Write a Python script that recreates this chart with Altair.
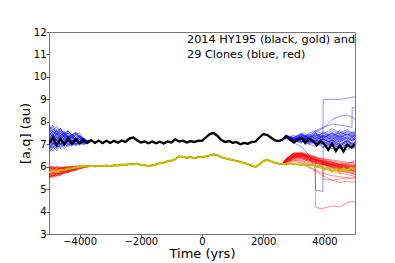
import altair as alt
import pandas as pd

# ---------------- data ----------------
main_time = list(range(-5000, 5001, 125))  # 81 sample times (yrs)

black_aq = [
    7.05, 7.30, 6.95, 7.25, 7.00, 7.28, 7.02, 7.22, 7.05, 7.20,
    7.05, 7.18, 7.06, 7.16, 7.05, 7.15, 7.06, 7.15, 7.07, 7.17,
    7.10, 7.25, 7.30, 7.18, 7.08, 7.12, 7.04, 7.12, 7.04, 7.11,
    7.03, 7.12, 7.08, 7.22, 7.12, 7.16, 7.08, 7.14, 7.10, 7.16,
    7.15, 7.30, 7.45, 7.50, 7.38, 7.20, 7.10, 7.14, 7.06, 7.10,
    7.00, 7.06, 7.02, 7.10, 7.12, 7.30, 7.45, 7.42, 7.30, 7.18,
    7.14, 7.20, 7.36, 7.22, 7.08, 7.20, 7.30, 7.05, 7.25, 7.15,
    6.95, 7.15, 7.00, 6.75, 7.02, 6.70, 6.95, 6.68, 7.00, 6.85,
    7.00,
]

gold_aq = [
    5.75, 5.80, 5.78, 5.85, 5.84, 5.90, 5.92, 5.97, 5.98, 6.02,
    6.00, 6.04, 6.01, 6.04, 6.02, 6.05, 6.03, 6.06, 6.05, 6.09,
    6.08, 6.12, 6.10, 6.13, 6.08, 6.07, 6.03, 6.06, 6.10, 6.16,
    6.18, 6.24, 6.27, 6.33, 6.46, 6.44, 6.40, 6.42, 6.38, 6.42,
    6.43, 6.46, 6.50, 6.55, 6.52, 6.42, 6.38, 6.33, 6.30, 6.25,
    6.22, 6.16, 6.12, 6.04, 5.98, 6.10, 6.25, 6.30, 6.24, 6.18,
    6.14, 6.12, 6.10, 6.14, 6.12, 6.10, 6.08, 6.10, 6.05, 6.08,
    6.00, 6.02, 5.88, 5.95, 5.78, 5.90, 5.75, 5.92, 5.82, 5.95,
    5.85,
]

clone_early_time = main_time[:11]          # -5000 .. -3750
shared_slice = (11, 62)                    # -3625 .. 2625 follow the nominal orbit
clone_late_time = [2750, 3000, 3250, 3500, 3700, 3710, 3950, 3960,
                   4250, 4500, 4750, 4900, 4910, 5000]

blue_early = [
    [7.9, 7.6, 7.8, 7.5, 7.6, 7.3, 7.4, 7.2, 7.3, 7.1, 7.15],
    [6.6, 6.9, 6.7, 7.0, 6.8, 7.0, 6.9, 7.1, 6.95, 7.1, 7.05],
    [7.6, 7.8, 7.4, 7.6, 7.3, 7.5, 7.2, 7.45, 7.5, 7.2, 7.1],
    [7.2, 7.5, 7.1, 7.4, 7.2, 7.35, 7.1, 7.3, 7.15, 7.25, 7.1],
    [6.8, 7.1, 6.85, 7.15, 6.9, 7.2, 7.0, 7.15, 7.0, 7.15, 7.05],
    [7.4, 7.1, 7.5, 7.2, 7.45, 7.25, 7.4, 7.2, 7.35, 7.15, 7.1],
    [7.0, 7.3, 7.2, 7.5, 7.3, 7.6, 7.4, 7.5, 7.3, 7.2, 7.1],
    [7.7, 7.4, 7.6, 7.3, 7.4, 7.1, 7.3, 7.1, 7.2, 7.1, 7.15],
    [6.9, 7.2, 6.9, 7.1, 6.95, 7.15, 7.0, 7.2, 7.05, 7.2, 7.1],
    [7.3, 7.0, 7.3, 7.0, 7.25, 7.0, 7.2, 7.0, 7.15, 7.05, 7.1],
    [7.5, 7.7, 7.5, 7.7, 7.4, 7.55, 7.35, 7.5, 7.3, 7.25, 7.15],
    [6.7, 6.95, 6.8, 7.05, 6.9, 7.1, 6.95, 7.05, 7.0, 7.1, 7.05],
    [7.1, 7.4, 7.2, 7.0, 7.3, 7.1, 7.35, 7.1, 7.25, 7.1, 7.1],
    [7.8, 7.5, 7.6, 7.4, 7.5, 7.2, 7.35, 7.2, 7.3, 7.15, 7.1],
    [6.85, 7.0, 7.2, 6.95, 7.15, 6.95, 7.1, 7.0, 7.1, 7.05, 7.1],
    [7.45, 7.25, 7.5, 7.3, 7.55, 7.3, 7.45, 7.25, 7.4, 7.2, 7.15],
    [7.0, 6.8, 7.1, 6.9, 7.1, 7.0, 7.15, 6.95, 7.1, 7.0, 7.05],
    [7.6, 7.3, 7.4, 7.6, 7.3, 7.4, 7.25, 7.4, 7.2, 7.25, 7.1],
    [7.25, 7.45, 7.2, 7.4, 7.15, 7.35, 7.15, 7.3, 7.1, 7.2, 7.1],
    [6.75, 7.05, 6.9, 7.2, 7.0, 7.2, 7.05, 7.15, 7.05, 7.1, 7.1],
    [7.35, 7.6, 7.4, 7.7, 7.45, 7.6, 7.4, 7.55, 7.35, 7.3, 7.15],
    [7.15, 6.95, 7.2, 7.0, 7.25, 7.05, 7.2, 7.05, 7.2, 7.05, 7.1],
    [7.55, 7.35, 7.65, 7.4, 7.5, 7.3, 7.45, 7.3, 7.4, 7.2, 7.1],
    [6.95, 7.25, 7.05, 7.3, 7.05, 7.25, 7.1, 7.25, 7.1, 7.15, 7.1],
    [7.65, 7.85, 7.55, 7.7, 7.45, 7.6, 7.4, 7.5, 7.35, 7.25, 7.15],
    [7.05, 6.85, 7.0, 6.8, 7.0, 6.9, 7.05, 6.95, 7.05, 7.0, 7.05],
    [7.4, 7.6, 7.3, 7.5, 7.35, 7.5, 7.3, 7.45, 7.3, 7.2, 7.1],
    [6.9, 6.7, 6.95, 6.85, 7.05, 6.9, 7.1, 6.95, 7.1, 7.0, 7.05],
    [7.2, 7.0, 7.35, 7.15, 7.4, 7.2, 7.35, 7.15, 7.3, 7.1, 7.1],
]

blue_late = [
    [7.3, 7.2, 7.35, 7.1, 7.3, 7.3, 7.2, 9.0, 9.0, 9.0, 9.05, 9.1, 9.1, 9.1],
    [7.25, 7.05, 6.9, 6.5, 5.9, 4.95, 4.9, 6.9, 7.1, 6.9, 7.2, 7.0, 7.0, 7.1],
    [7.3, 7.4, 7.2, 7.5, 7.6, 7.6, 7.75, 7.75, 7.9, 7.85, 7.8, 7.75, 8.65, 8.6],
    [7.35, 7.3, 7.5, 7.4, 7.55, 7.55, 7.7, 7.7, 8.1, 8.25, 8.3, 8.2, 8.2, 8.1],
    [7.3, 7.1, 7.3, 7.2, 7.0, 7.0, 7.1, 7.1, 6.9, 7.05, 6.85, 6.95, 6.95, 7.0],
    [7.4, 7.2, 7.4, 7.3, 7.4, 7.4, 7.3, 7.3, 7.5, 7.3, 7.45, 7.35, 7.35, 7.4],
    [7.35, 7.15, 7.2, 7.0, 6.9, 6.9, 7.05, 7.05, 6.8, 6.95, 6.75, 6.9, 6.9, 6.85],
    [7.3, 7.25, 7.45, 7.3, 7.5, 7.5, 7.35, 7.35, 7.6, 7.45, 7.55, 7.4, 7.4, 7.5],
    [7.35, 7.1, 7.25, 7.15, 7.05, 7.05, 7.2, 7.2, 7.1, 7.25, 7.05, 7.2, 7.2, 7.15],
    [7.3, 7.3, 7.1, 7.35, 7.15, 7.15, 7.4, 7.4, 7.2, 7.45, 7.25, 7.4, 7.4, 7.3],
    [7.4, 7.15, 7.35, 7.2, 7.35, 7.35, 7.15, 7.15, 7.3, 7.1, 7.3, 7.15, 7.15, 7.25],
    [7.35, 7.2, 7.3, 7.1, 7.25, 7.25, 6.95, 6.95, 7.15, 6.9, 7.1, 6.95, 6.95, 7.05],
    [7.3, 7.25, 7.15, 7.45, 7.25, 7.25, 7.55, 7.55, 7.35, 7.6, 7.4, 7.55, 7.55, 7.45],
    [7.35, 7.05, 7.3, 7.05, 7.2, 7.2, 6.9, 6.9, 7.0, 6.8, 6.95, 6.8, 6.8, 6.9],
    [7.3, 7.2, 7.4, 7.25, 7.45, 7.45, 7.3, 7.3, 7.5, 7.35, 7.6, 7.45, 7.45, 7.55],
    [7.4, 7.1, 7.2, 7.3, 7.1, 7.1, 7.25, 7.25, 7.05, 7.3, 7.1, 7.25, 7.25, 7.2],
    [7.3, 7.3, 7.45, 7.2, 7.4, 7.4, 7.2, 7.2, 7.4, 7.2, 7.35, 7.2, 7.2, 7.3],
    [7.35, 7.15, 7.1, 7.25, 7.05, 7.05, 7.25, 7.25, 7.0, 7.2, 6.95, 7.1, 7.1, 7.0],
    [7.3, 7.2, 7.35, 7.15, 7.35, 7.35, 7.5, 7.5, 7.3, 7.55, 7.35, 7.5, 7.5, 7.4],
    [7.4, 7.1, 7.25, 7.05, 7.15, 7.15, 7.0, 7.0, 7.2, 7.0, 7.15, 7.0, 7.0, 7.1],
    [7.35, 7.25, 7.4, 7.35, 7.6, 7.6, 7.45, 7.45, 7.7, 7.5, 7.65, 7.5, 7.5, 7.6],
    [7.3, 7.15, 7.05, 7.2, 7.0, 7.0, 7.15, 7.15, 6.95, 7.15, 6.9, 7.05, 7.05, 6.95],
    [7.35, 7.2, 7.3, 7.4, 7.25, 7.25, 7.4, 7.4, 7.25, 7.4, 7.2, 7.35, 7.35, 7.3],
    [7.3, 7.1, 7.3, 7.1, 7.3, 7.3, 7.1, 7.1, 7.35, 7.15, 7.3, 7.15, 7.15, 7.25],
    [7.4, 7.3, 7.45, 7.3, 7.5, 7.5, 7.3, 7.3, 7.45, 7.25, 7.45, 7.3, 7.3, 7.4],
    [7.3, 7.1, 7.15, 7.0, 7.1, 7.1, 6.85, 6.85, 7.05, 6.85, 7.0, 6.8, 6.8, 6.9],
    [7.35, 7.2, 7.35, 7.25, 7.45, 7.45, 7.25, 7.25, 7.5, 7.3, 7.5, 7.35, 7.35, 7.45],
    [7.3, 7.15, 7.25, 7.1, 7.2, 7.2, 7.05, 7.05, 7.2, 6.95, 7.15, 7.0, 7.0, 7.1],
    [7.35, 7.25, 7.1, 7.3, 7.15, 7.15, 7.35, 7.35, 7.15, 7.35, 7.15, 7.3, 7.3, 7.2],
]

red_early = [
    [5.5, 5.6, 5.55, 5.7, 5.7, 5.8, 5.8, 5.9, 5.92, 5.98, 6.0],
    [6.05, 5.95, 6.0, 5.95, 6.0, 5.98, 6.02, 6.0, 6.03, 6.02, 6.02],
    [5.6, 5.7, 5.65, 5.75, 5.8, 5.85, 5.88, 5.95, 5.95, 6.0, 6.0],
    [5.9, 5.8, 5.9, 5.85, 5.95, 5.9, 5.98, 5.95, 6.02, 6.0, 6.02],
    [5.55, 5.65, 5.6, 5.72, 5.75, 5.82, 5.85, 5.92, 5.95, 6.0, 6.01],
    [5.95, 6.02, 5.9, 6.0, 5.92, 6.02, 5.95, 6.05, 6.0, 6.05, 6.03],
    [5.7, 5.6, 5.75, 5.68, 5.8, 5.78, 5.88, 5.88, 5.95, 5.97, 6.0],
    [5.8, 5.9, 5.78, 5.92, 5.85, 5.95, 5.9, 5.98, 5.96, 6.02, 6.01],
    [5.6, 5.55, 5.7, 5.65, 5.78, 5.75, 5.85, 5.85, 5.93, 5.95, 6.0],
    [6.0, 5.9, 6.02, 5.92, 6.0, 5.95, 6.02, 5.97, 6.03, 6.0, 6.02],
    [5.65, 5.75, 5.7, 5.8, 5.78, 5.87, 5.85, 5.93, 5.95, 6.0, 6.0],
    [5.85, 5.75, 5.85, 5.8, 5.9, 5.85, 5.95, 5.92, 6.0, 5.98, 6.01],
    [5.52, 5.62, 5.6, 5.68, 5.72, 5.8, 5.82, 5.9, 5.92, 5.98, 6.0],
    [5.75, 5.85, 5.8, 5.88, 5.85, 5.92, 5.9, 5.97, 5.97, 6.02, 6.01],
    [5.95, 5.85, 5.95, 5.88, 5.97, 5.92, 6.0, 5.95, 6.02, 5.99, 6.02],
    [5.58, 5.68, 5.62, 5.74, 5.76, 5.84, 5.86, 5.93, 5.94, 5.99, 6.0],
    [5.88, 5.98, 5.85, 5.95, 5.9, 5.98, 5.93, 6.02, 5.98, 6.03, 6.02],
    [5.68, 5.58, 5.72, 5.66, 5.78, 5.76, 5.86, 5.86, 5.94, 5.96, 6.0],
    [5.82, 5.72, 5.84, 5.78, 5.88, 5.84, 5.93, 5.9, 5.98, 5.97, 6.01],
    [6.02, 5.92, 5.98, 5.9, 5.98, 5.93, 6.0, 5.96, 6.02, 5.99, 6.02],
    [5.62, 5.72, 5.68, 5.78, 5.8, 5.86, 5.88, 5.94, 5.95, 6.0, 6.0],
    [5.78, 5.68, 5.8, 5.74, 5.84, 5.82, 5.9, 5.9, 5.96, 5.98, 6.01],
    [5.92, 6.0, 5.88, 5.96, 5.9, 5.97, 5.94, 6.0, 5.99, 6.03, 6.02],
    [5.55, 5.5, 5.62, 5.6, 5.72, 5.72, 5.82, 5.84, 5.92, 5.95, 6.0],
    [5.72, 5.82, 5.76, 5.86, 5.82, 5.9, 5.88, 5.95, 5.96, 6.01, 6.01],
    [5.98, 5.88, 5.96, 5.86, 5.95, 5.9, 5.98, 5.94, 6.01, 5.98, 6.02],
    [5.64, 5.56, 5.68, 5.62, 5.75, 5.74, 5.84, 5.85, 5.93, 5.96, 6.0],
    [5.86, 5.94, 5.82, 5.9, 5.86, 5.94, 5.9, 5.98, 5.97, 6.02, 6.01],
    [5.7, 5.78, 5.74, 5.82, 5.8, 5.88, 5.87, 5.94, 5.95, 6.0, 6.0],
]

red_late = [
    [6.35, 6.55, 6.6, 6.5, 6.45, 4.2, 4.1, 4.15, 4.25, 4.2, 4.4, 4.45, 4.45, 4.4],
    [6.3, 6.45, 6.4, 6.2, 6.1, 6.1, 6.0, 5.45, 5.4, 5.45, 5.5, 5.5, 5.5, 5.55],
    [6.35, 6.6, 6.55, 6.4, 6.3, 6.3, 6.2, 6.2, 6.1, 6.0, 5.95, 5.9, 5.9, 5.85],
    [6.3, 6.5, 6.6, 6.45, 6.35, 6.35, 6.25, 6.25, 6.15, 6.1, 6.05, 6.0, 6.0, 5.95],
    [6.25, 6.4, 6.45, 6.3, 6.2, 6.2, 6.1, 6.1, 6.0, 5.9, 5.85, 5.8, 5.8, 5.75],
    [6.35, 6.55, 6.5, 6.35, 6.25, 6.25, 6.15, 6.15, 6.05, 5.95, 5.9, 5.85, 5.85, 5.8],
    [6.2, 6.3, 6.2, 6.0, 5.85, 5.85, 5.7, 5.7, 5.6, 5.55, 5.5, 5.45, 5.45, 5.5],
    [6.3, 6.6, 6.65, 6.55, 6.45, 6.45, 6.35, 6.35, 6.3, 6.25, 6.2, 6.15, 6.15, 6.1],
    [6.2, 6.35, 6.3, 6.15, 6.05, 6.05, 5.95, 5.95, 5.9, 5.8, 5.75, 5.7, 5.7, 5.65],
    [6.35, 6.55, 6.6, 6.5, 6.4, 6.4, 6.3, 6.3, 6.2, 6.15, 6.1, 6.1, 6.1, 6.05],
    [6.25, 6.45, 6.45, 6.35, 6.3, 6.3, 6.2, 6.2, 6.05, 6.0, 5.95, 5.9, 5.9, 5.9],
    [6.15, 6.25, 6.15, 5.95, 5.8, 5.8, 5.6, 5.6, 5.4, 5.3, 5.35, 5.3, 5.3, 5.35],
    [6.3, 6.5, 6.55, 6.45, 6.35, 6.35, 6.25, 6.25, 6.2, 6.1, 6.0, 5.95, 5.95, 5.9],
    [6.35, 6.6, 6.6, 6.45, 6.3, 6.3, 6.15, 6.15, 6.0, 5.85, 5.75, 5.7, 5.7, 5.65],
    [6.2, 6.4, 6.35, 6.25, 6.15, 6.15, 6.1, 6.1, 6.05, 6.05, 6.0, 6.0, 6.0, 6.0],
    [6.3, 6.5, 6.5, 6.4, 6.3, 6.3, 6.2, 6.2, 6.1, 6.05, 6.1, 6.05, 6.05, 6.1],
    [6.25, 6.45, 6.5, 6.4, 6.3, 6.3, 6.2, 6.2, 6.1, 6.0, 5.9, 5.85, 5.85, 5.8],
    [6.35, 6.55, 6.55, 6.45, 6.4, 6.4, 6.35, 6.35, 6.25, 6.2, 6.15, 6.2, 6.2, 6.15],
    [6.2, 6.3, 6.25, 6.1, 6.0, 6.0, 5.9, 5.9, 5.8, 5.7, 5.65, 5.6, 5.6, 5.55],
    [6.3, 6.5, 6.45, 6.3, 6.2, 6.2, 6.1, 6.1, 6.0, 5.95, 5.9, 5.9, 5.9, 5.95],
    [6.25, 6.45, 6.5, 6.4, 6.3, 6.3, 6.25, 6.25, 6.15, 6.1, 6.05, 6.05, 6.05, 6.0],
    [6.3, 6.55, 6.6, 6.5, 6.4, 6.4, 6.3, 6.3, 6.2, 6.1, 6.0, 5.95, 5.95, 5.9],
    [6.2, 6.35, 6.35, 6.25, 6.15, 6.15, 6.05, 6.05, 5.95, 5.9, 5.85, 5.85, 5.85, 5.8],
    [6.35, 6.6, 6.55, 6.4, 6.3, 6.3, 6.2, 6.2, 6.1, 6.1, 6.15, 6.2, 6.2, 6.25],
    [6.25, 6.4, 6.4, 6.3, 6.2, 6.2, 6.1, 6.1, 5.95, 5.85, 5.8, 5.75, 5.75, 5.7],
    [6.3, 6.5, 6.55, 6.45, 6.35, 6.35, 6.25, 6.25, 6.15, 6.05, 6.0, 6.0, 6.0, 6.05],
    [6.2, 6.4, 6.45, 6.35, 6.25, 6.25, 6.15, 6.15, 6.0, 5.95, 5.9, 5.8, 5.8, 5.75],
    [6.3, 6.55, 6.5, 6.4, 6.3, 6.3, 6.2, 6.2, 6.1, 6.0, 5.95, 5.9, 5.9, 5.85],
    [6.25, 6.45, 6.4, 6.3, 6.25, 6.25, 6.15, 6.15, 6.05, 6.0, 6.0, 5.95, 5.95, 6.0],
]

x_ticks = [-4000, -2000, 0, 2000, 4000]
y_ticks = [3, 4, 5, 6, 7, 8, 9, 10, 11, 12]
note_line1 = "2014 HY195 (black, gold) and"
note_line2 = "29 Clones (blue, red)"

# ---------------- tables ----------------
a, b = shared_slice
main_df = pd.DataFrame({"t": main_time, "black": black_aq, "gold": gold_aq})


def clone_table(early, late, nominal, prefix):
    rows = []
    for i, (e, l) in enumerate(zip(early, late)):
        times = clone_early_time + main_time[a:b] + clone_late_time
        vals = list(e) + nominal[a:b] + list(l)
        for t, v in zip(times, vals):
            rows.append({"t": t, "v": v, "clone": f"{prefix}{i}"})
    return pd.DataFrame(rows)


blue_df = clone_table(blue_early, blue_late, black_aq, "b")
red_df = clone_table(red_early, red_late, gold_aq, "r")

FONT = "DejaVu Sans"

x_scale = alt.Scale(domain=[-5000, 5000], nice=False, zero=False)
y_scale = alt.Scale(domain=[3, 12], nice=False, zero=False)
x_axis = alt.Axis(values=x_ticks, format="d", title="Time (yrs)")
y_axis = alt.Axis(values=y_ticks, format="d", title="[a,q] (au)")

x_enc = alt.X("t:Q", scale=x_scale, axis=x_axis)

blue_layer = alt.Chart(blue_df).mark_line(
    color="#0000ff", strokeWidth=0.5, opacity=0.85, clip=True
).encode(x=x_enc, y=alt.Y("v:Q", scale=y_scale, axis=y_axis), detail="clone:N")

red_layer = alt.Chart(red_df).mark_line(
    color="#ff0000", strokeWidth=0.5, opacity=0.85, clip=True
).encode(x=x_enc, y=alt.Y("v:Q", scale=y_scale, axis=y_axis), detail="clone:N")

black_layer = alt.Chart(main_df).mark_line(color="#000000", strokeWidth=2.3, clip=True).encode(
    x=x_enc, y=alt.Y("black:Q", scale=y_scale, axis=y_axis)
)
gold_layer = alt.Chart(main_df).mark_line(color="#bfbf00", strokeWidth=2.2, clip=True).encode(
    x=x_enc, y=alt.Y("gold:Q", scale=y_scale, axis=y_axis)
)

note1 = alt.Chart(pd.DataFrame({"s": [note_line1]})).mark_text(
    align="left", baseline="middle", font=FONT, fontSize=11.3, color="#000000"
).encode(x=alt.value(138), y=alt.value(7.5), text="s:N")
note2 = alt.Chart(pd.DataFrame({"s": [note_line2]})).mark_text(
    align="left", baseline="middle", font=FONT, fontSize=11.3, color="#000000"
).encode(x=alt.value(138), y=alt.value(22.5), text="s:N")

chart = (
    alt.layer(blue_layer, red_layer, black_layer, gold_layer, note1, note2)
    .properties(
        width=306,
        height=202,
        autosize=alt.AutoSizeParams(type="none"),
        padding={"left": 41, "top": 24, "right": 32, "bottom": 32},
    )
    .configure_view(stroke="#777777", strokeWidth=1)
    .configure_axis(
        grid=False,
        domainColor="#777777",
        domainWidth=1,
        tickColor="#555555",
        tickSize=3,
        labelFont=FONT,
        labelFontSize=10,
        labelColor="#000000",
        labelPadding=0,
        titleFont=FONT,
        titleFontSize=13,
        titleFontWeight="normal",
        titleColor="#000000",
    )
    .configure_axisLeft(titleX=-20, titleY=101, titleBaseline="alphabetic", titleAngle=270)
    .configure_axisBottom(titleX=153, titleY=23, titleBaseline="alphabetic", labelPadding=-1)
)

chart.save("out.html", embed_options={"renderer": "svg", "actions": False})
